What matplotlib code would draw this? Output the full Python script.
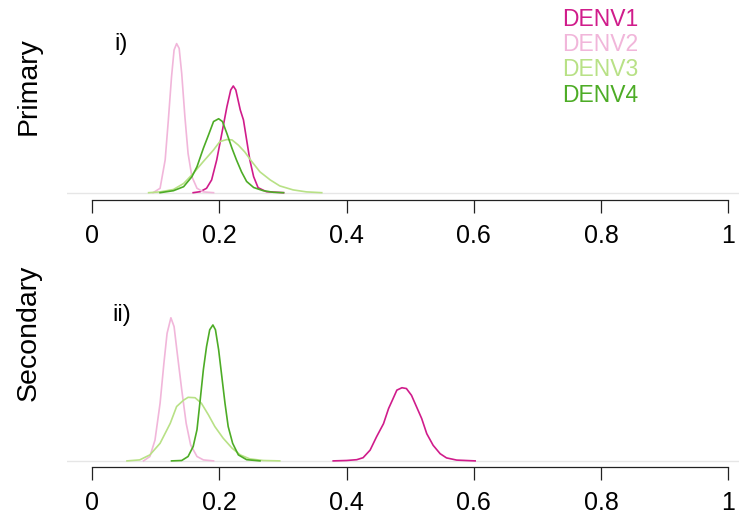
#!/usr/bin/env python3
"""
Posterior densities for DENV1-4, primary vs secondary infections
"""
import matplotlib
matplotlib.use('Agg')
import matplotlib.pyplot as plt

plt.rcParams['font.family'] = ['Liberation Sans', 'DejaVu Sans']

serotypes = ['DENV1', 'DENV2', 'DENV3', 'DENV4']
colors = ['#D01C8B', '#F1B6DA', '#B8E186', '#4DAC26']

# Primary panel: density curves (x, density)
prim_x1 = [0.159, 0.170, 0.180, 0.188, 0.196, 0.204, 0.212, 0.218, 0.222, 0.226,
           0.233, 0.238, 0.243, 0.248, 0.254, 0.261, 0.274, 0.301]
prim_y1 = [0, 0.25, 1.1, 3.2, 8.2, 14.8, 21.5, 25.7, 26.7, 25.7,
           20.7, 18.2, 13.2, 8.2, 4.0, 1.25, 0.25, 0]
prim_x2 = [0.096, 0.107, 0.115, 0.120, 0.125, 0.129, 0.133, 0.137, 0.141, 0.146,
           0.151, 0.157, 0.165, 0.175, 0.191]
prim_y2 = [0, 1.1, 8.2, 18.2, 29.0, 35.7, 37.3, 36.1, 29.8, 19.0,
           9.8, 4.0, 1.1, 0.2, 0]
prim_x3 = [0.089, 0.107, 0.128, 0.144, 0.159, 0.175, 0.191, 0.201, 0.212, 0.220,
           0.230, 0.240, 0.251, 0.264, 0.280, 0.295, 0.316, 0.337, 0.361]
prim_y3 = [0, 0.2, 0.8, 2.3, 4.8, 7.8, 10.7, 12.8, 13.3, 13.2,
           11.9, 10.2, 7.8, 5.2, 3.2, 1.7, 0.7, 0.2, 0]
prim_x4 = [0.107, 0.128, 0.144, 0.157, 0.165, 0.175, 0.183, 0.191, 0.199, 0.205,
           0.212, 0.220, 0.227, 0.235, 0.243, 0.254, 0.269, 0.285, 0.301]
prim_y4 = [0, 0.5, 1.5, 4.0, 6.5, 11.1, 14.4, 17.8, 18.5, 17.8,
           14.8, 11.1, 8.2, 5.2, 2.8, 1.3, 0.5, 0.1, 0]

# Secondary panel
sec_x1 = [0.379, 0.400, 0.416, 0.426, 0.437, 0.447, 0.458, 0.466, 0.472, 0.479,
          0.487, 0.494, 0.502, 0.510, 0.518, 0.526, 0.536, 0.547, 0.557, 0.573, 0.602]
sec_y1 = [0, 0.1, 0.3, 0.8, 2.7, 6.0, 9.3, 13.1, 15.2, 17.7,
          18.3, 18.1, 16.4, 13.5, 10.6, 6.8, 3.9, 1.8, 0.75, 0.2, 0]
sec_x2 = [0.081, 0.091, 0.099, 0.107, 0.113, 0.118, 0.124, 0.129, 0.134, 0.141,
          0.148, 0.155, 0.165, 0.175, 0.191]
sec_y2 = [0, 1.1, 5.2, 14.4, 24.4, 31.9, 35.8, 33.6, 26.9, 17.8,
          9.4, 4.0, 1.1, 0.25, 0]
sec_x3 = [0.055, 0.075, 0.091, 0.107, 0.123, 0.133, 0.144, 0.151, 0.162, 0.172,
          0.183, 0.193, 0.206, 0.220, 0.233, 0.248, 0.269, 0.295]
sec_y3 = [0, 0.25, 1.5, 4.4, 9.4, 13.6, 15.2, 15.9, 15.8, 14.4,
          11.5, 8.6, 5.7, 3.2, 1.5, 0.5, 0.1, 0]
sec_x4 = [0.125, 0.141, 0.151, 0.159, 0.165, 0.170, 0.175, 0.180, 0.185, 0.190,
          0.194, 0.199, 0.204, 0.209, 0.214, 0.221, 0.230, 0.243, 0.264]
sec_y4 = [0, 0.1, 1.1, 3.6, 7.8, 15.2, 22.8, 28.6, 32.8, 34.0,
          32.8, 27.8, 21.1, 14.4, 8.6, 4.4, 1.5, 0.3, 0]

xticks = [0, 0.2, 0.4, 0.6, 0.8, 1]
xticklabels = ['0', '0.2', '0.4', '0.6', '0.8', '1']

panels = [
    ('Primary', 'i)', [(prim_x1, prim_y1), (prim_x2, prim_y2), (prim_x3, prim_y3), (prim_x4, prim_y4)]),
    ('Secondary', 'ii)', [(sec_x1, sec_y1), (sec_x2, sec_y2), (sec_x3, sec_y3), (sec_x4, sec_y4)]),
]

fig = plt.figure(figsize=(7.39, 5.16), dpi=100)
ax_top = fig.add_axes([0.0900, 0.6124, 0.9302, 0.3488])
ax_bot = fig.add_axes([0.0900, 0.0944, 0.9302, 0.3436])
ylims = [(-1.83, 43.2), (-1.6, 42.75)]
ylabel_y = [0.8333, 0.3547]
tag_pos = [(114, 44), (112, 315)]

for i, (ax, (name, tag, curves)) in enumerate(zip([ax_top, ax_bot], panels)):
    ax.axhline(0, color='#e6e6e6', linewidth=1.0, zorder=1)
    for (x, y), c in zip(curves, colors):
        ax.plot(x, y, color=c, linewidth=1.2, zorder=2)
    ax.set_xlim(-0.04, 1.04)
    ax.set_ylim(*ylims[i])
    for s in ['top', 'right', 'left']:
        ax.spines[s].set_visible(False)
    ax.spines['bottom'].set_bounds(0, 1)
    ax.spines['bottom'].set_color('#222222')
    ax.spines['bottom'].set_linewidth(0.9)
    ax.set_yticks([])
    ax.set_xticks(xticks)
    ax.set_xticklabels(xticklabels, fontsize=18)
    ax.tick_params(axis='x', direction='out', length=9, width=0.9,
                   color='#222222', pad=8)
    fig.text(28.5 / 739, ylabel_y[i], name, rotation=90, fontsize=20.5,
             ha='center', va='center')
    fig.text(tag_pos[i][0] / 739, 1 - tag_pos[i][1] / 516, tag, fontsize=17.5,
             ha='left', va='center')

# Legend as coloured text
for k, (lab, c) in enumerate(zip(serotypes, colors)):
    fig.text(562 / 739, 1 - (19 + 25.5 * k) / 516, lab, color=c,
             fontsize=16.5, ha='left', va='center')

plt.savefig('out.png', dpi=100)
